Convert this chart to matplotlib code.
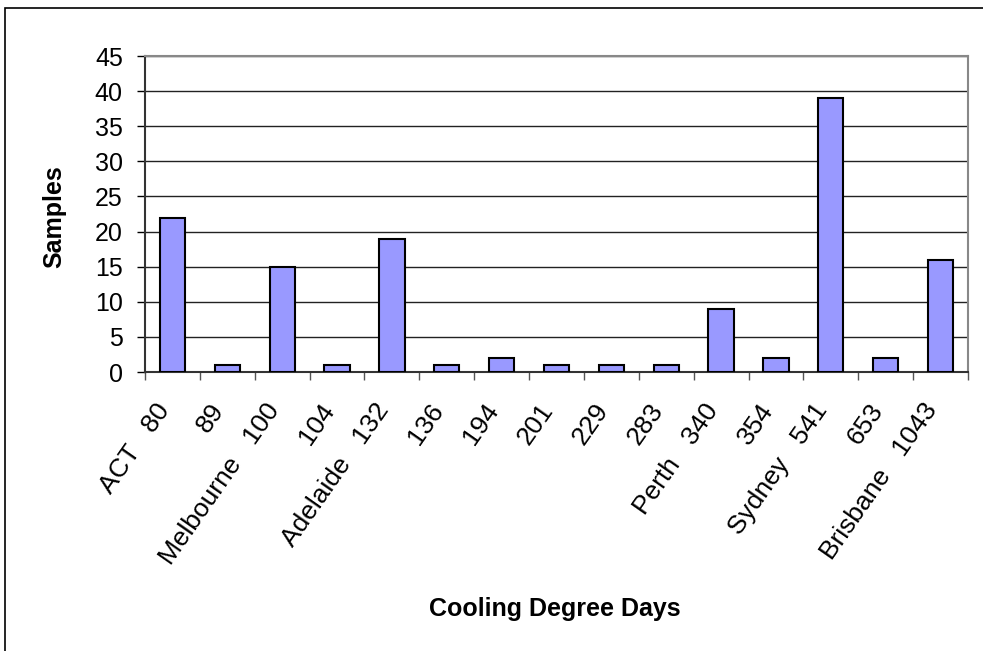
import matplotlib.pyplot as plt
from matplotlib.patches import Rectangle
from matplotlib.transforms import ScaledTranslation

plt.rcParams['font.family'] = ['Liberation Sans', 'DejaVu Sans']

labels = ['ACT   80', '89', 'Melbourne   100', '104', 'Adelaide   132', '136', '194',
          '201', '229', '283', 'Perth   340', '354', 'Sydney   541', '653', 'Brisbane   1043']
samples = [22, 1, 15, 1, 19, 1, 2, 1, 1, 1, 9, 2, 39, 2, 16]

fig = plt.figure(figsize=(9.83, 6.51), dpi=100)
ax = fig.add_axes([145 / 983, 1 - 372 / 651, (968 - 145) / 983, (372 - 56) / 651])

x = list(range(len(samples)))
ax.bar(x, samples, width=0.46, color='#9999FF', edgecolor='black', linewidth=1.5, zorder=3)

ax.set_xlim(-0.5, len(samples) - 0.5)
ax.set_ylim(0, 45)
ax.set_yticks(range(0, 50, 5))
ax.yaxis.grid(True, color='#222222', linewidth=1, zorder=0)

# ticks between categories, labels centred on bars
ax.set_xticks([i - 0.5 for i in range(len(samples) + 1)])
ax.set_xticklabels([])
ax.set_xticks(x, minor=True)
ax.set_xticklabels(labels, minor=True, rotation=55, ha='right', va='center',
                   rotation_mode='anchor', fontsize=19)
ax.tick_params(axis='x', which='minor', length=0, pad=18)
ax.tick_params(axis='x', which='major', length=6, width=1, color='#555555')
ax.tick_params(axis='y', length=6, width=1, labelsize=18, pad=10)

# nudge the slanted labels a bit down and left
shift = ScaledTranslation(-0.08, -0.09, fig.dpi_scale_trans)
for lab in ax.get_xticklabels(minor=True):
    lab.set_transform(lab.get_transform() + shift)

for side in ['top', 'right']:
    ax.spines[side].set_color('#888888')
    ax.spines[side].set_linewidth(1.5)
for side in ['left', 'bottom']:
    ax.spines[side].set_color('#333333')
    ax.spines[side].set_linewidth(1.5)

fig.text(54 / 983, 1 - 217 / 651, 'Samples', fontsize=18, fontweight='bold',
         rotation=90, ha='center', va='center')
fig.text(555 / 983, 1 - 609 / 651, 'Cooling Degree Days', fontsize=18, fontweight='bold',
         ha='center', va='center')

# outer chart border
fig.patches.append(Rectangle((5 / 983, -0.1), 1.2, 1 - 8 / 651 + 0.1, transform=fig.transFigure,
                             fill=False, edgecolor='black', linewidth=1.2))

fig.savefig('out.png', dpi=100)
